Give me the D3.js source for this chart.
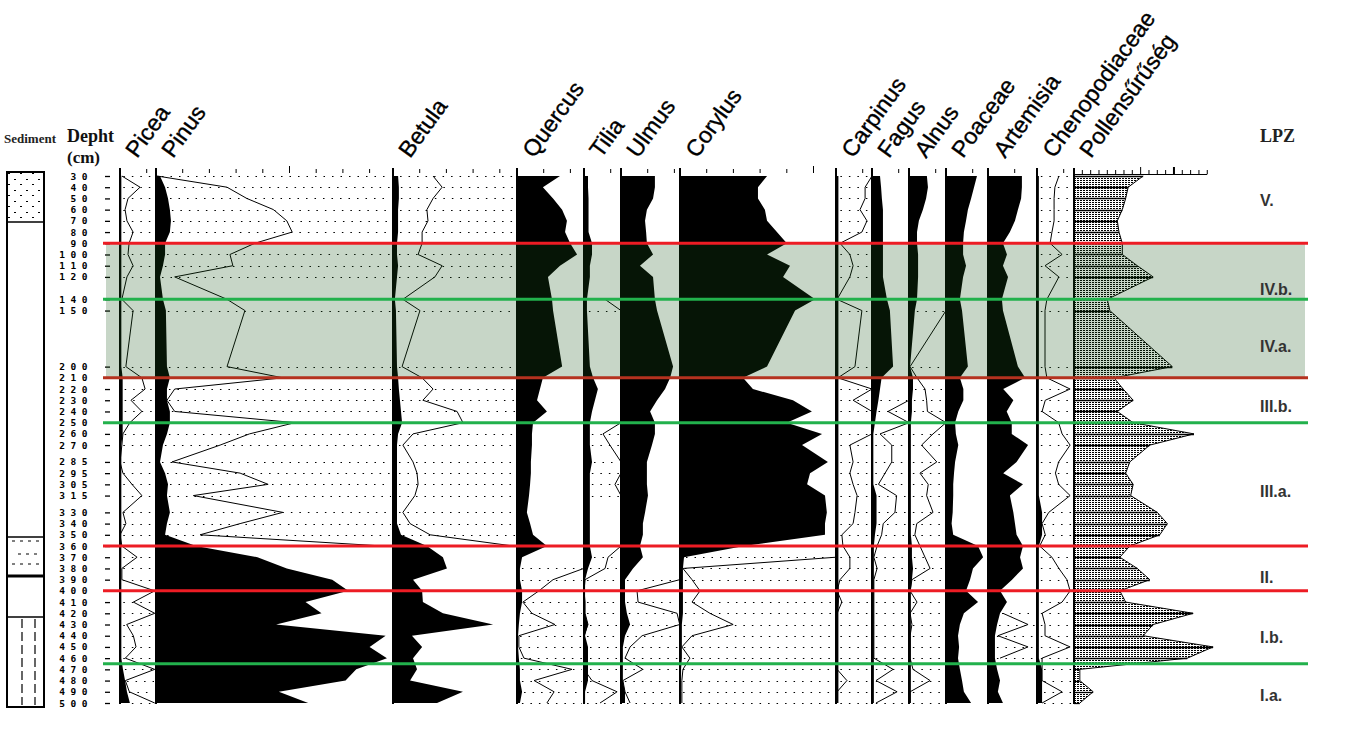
<!DOCTYPE html>
<html>
<head>
<meta charset="utf-8">
<script src="https://cdn.jsdelivr.net/npm/d3@7/dist/d3.min.js"></script>
<style>
  body { margin: 0; background: #fff; }
  svg { display: block; }
</style>
</head>
<body>
<div id="chart"></div>
<script>
// Sample depths (cm)
const depths = [30,40,50,60,70,80,90,100,110,120,
                140,150,200,210,220,230,240,250,260,270,
                285,295,305,315,330,340,350,360,370,380,
                390,400,410,420,430,440,450,460,470,480,
                490,500];

const taxa = ["Picea","Pinus","Betula","Quercus","Tilia","Ulmus","Corylus",
              "Carpinus","Fagus","Alnus","Poaceae","Artemisia","Chenopodiaceae","Pollensűrűség"];

// percentages (black silhouettes) and exaggeration curves
const piceaPct = [.5,.5,.5,.5,.5,.5,.5,.5,.5,.5, .5,.5,.5,1,1,1,1,1,1,.5, .5,.5,.5,.5,.5,.5,.5,.5,.5,.5, .5,.5,.5,.5,.5,.5,.5,.5,1.1,1.9, 2.6,3.7];
const piceaExag = [0.7,7.5,3,1.9,2.6,4.9,3.4,3,4.9,2.6, 0.7,4.9,2.2,8.2,9.4,4.1,8.2,3.7,1.1,0.7, 0,1.1,4.5,8.2,1.1,2.2,0,0.7,6.4,0.7, 0.7,13,5,13,2.5,5,6,2,13,2, 3.5,13];

const pinusPct = [1.5,3.4,4.5,5.2,5.6,5.2,3.4,3.4,2.6,1.5, 2.6,3.7,4.1,5.2,4.1,4.1,5.2,5.2,4.1,2.6, 1.5,3.4,4.5,4.1,5.2,4.1,3.4,15,38,49, 66,72,56,62,45,86,80,86.5,75,71, 46,57];
const pinusExag = [0.4,26.6,34,44,49,51,37,27.7,28.8,7, 26.6,33.3,26.6,47.5,7,4.1,7,52,35,24, 6,31.5,42,14,47.5,31.5,16.5,85,null,null, null,null,null,null,null,null,null,null,null,null, null,null];

const betulaPct = [1.9,2.2,2.2,1.9,1.9,1.9,1.5,1.5,1.9,1.5, 0.7,1.1,1.5,1.9,2.2,2.6,3,3.4,1.9,1.5, 1.5,1.5,1.5,1.5,1.5,1.5,3,12.7,18.7,20.2, 7.5,10.9,11.2,18.7,37.5,7.1,10.9,7.5,9,6.4, 26.2,16.5];
const betulaExag = [15,18.4,15,12.7,13.1,10.9,10.9,9.4,18.4,15.7, 3.7,10.1,3.4,10.9,15,11.2,24,26.2,7.5,3.7, 7.5,9,9.4,8.2,3.7,6.4,13.9,45,null,null, null,null,null,null,null,null,null,null,null,null, null,null];

const quercusPct = [16.1,9.7,13.5,16.9,18.7,18,19.9,22.5,16.1,11.6, 13.1,13.5,16.9,9.7,8.6,7.5,11.2,6,5.6,5.6, 5.2,5.2,4.9,4.5,3.7,4.9,6,11.2,1.9,1.1, 1.1,1.9,1.9,1.1,0.7,0.4,0.4,0.7,1.1,1.1, 1.9,1.1];
const quercusExag = [null,null,null,null,null,null,null,null,null,null, null,null,null,null,null,null,null,null,null,null, null,null,null,null,null,null,null,null,null,25, 13.5,8.2,2.2,5.6,14.2,0.7,0.7,2.6,20.6,6.4, 13.9,11.2];

const tiliaPct = [1.5,1.5,1.7,1.7,1.7,1.7,3,3,2.2,2.2, 1.1,1.1,2.2,3.4,5.2,4.1,3,2.2,2.2,2.2, 3,2.2,2.2,2.2,2.2,2.2,2.2,2.2,3,1.5, 0.4,0.4,0.4,0.4,1.5,0.4,1.5,1.5,1.5,1.5, 0.4,0.4];
const tiliaExag = [null,null,null,null,null,null,null,null,null,null, 7.9,13.9,null,null,null,null,null,13.9,7.1,9.7, 13.9,13.9,11.6,13.9,null,null,null,13.9,9,7.9, 0.4,0,0.4,0.4,1.5,0,0,0,0,3, 12.4,6];

const ulmusPct = [12.7,12.7,12,9.7,9,9.4,9.7,12,7.1,12, 12.7,13.5,19.5,18.4,16.5,13.5,10.9,12.7,12.7,11.6, 9.7,9.7,9.7,10.1,9,8.2,8.2,7.1,8.2,4.5, 1.5,1.5,1.5,2.2,3.4,1.5,0.7,0.7,0.7,0.7, 1.5,1.5];
const ulmusExag = [null,null,null,null,null,null,null,null,null,null, null,null,null,null,null,null,null,null,null,null, null,null,null,null,null,null,null,null,null,null, 22,6,6.4,21,22,7.9,3.4,1.5,8.2,0.7, 1.5,3.4];

const corylusPct = [32.6,29.2,29.2,31.8,32.6,36.3,40,32.6,41.2,38.6, 50.6,43.1,32.6,23.6,27.3,42.3,49.4,40,53.2,45.7, 55.4,48.7,47.6,54.3,55,54.3,54.3,24,1.5,1.1, 1.1,1.1,1.1,1.1,0.7,0.7,0.7,0.7,0.4,0.4, 0.4,0.4];
const corylusExag = [null,null,null,null,null,null,null,null,null,null, null,null,null,null,null,null,null,null,null,null, null,null,null,null,null,null,null,null,58.4,1.1, 4.5,7.5,4.5,11.2,19.9,4.5,0.7,3.7,1.1,0.7, 0.7,0.7];

const carpinusPct = [.9,.9,.9,.9,.9,.9,.9,.9,.9,.9, .9,.9,.9,.9,.9,.9,.9,.9,.9,.9, .9,.9,.9,.9,.9,.9,.9,.9,.9,.9, .9,1.1,1.1,.9,.9,.9,.9,.9,.9,.9, .9,.9];
const carpinusExag = [13.5,10.9,10.9,9,11.6,9.7,1.5,5.2,6.4,5.2, 0.4,9.7,7.1,0.7,13.5,6.4,13.5,13.5,13.5,5.2, 6.4,5.2,6.4,7.9,7.1,6.4,2.2,2.6,5.2,5.2, 1.5,0.4,2.2,0.4,0.4,0.4,0.4,0.4,0.4,4.1, 0.4,0.4];

const fagusPct = [3,3.4,3.7,4.1,4.1,4.1,4.1,4.1,4.1,4.1, 5.6,6.7,7.9,3.6,3,2.4,1.7,1.1,0.5,0.5, 0.5,0.5,0.5,1.7,1.7,1.7,1.1,0.7,0.7,0.7, 0.7,0.7,0.7,0.7,0.7,0.7,0.7,0.7,0.7,0.7, 0.7,0.7];
const fagusExag = [null,null,null,null,null,null,null,null,null,null, null,null,null,null,null,13.9,6,13.9,3,7.4, 7.4,4.9,2.4,9.2,8.6,4.2,3.6,1.9,0.7,1.9, 0.7,0.7,0.7,0.7,0.7,0.7,0.7,0.7,7.9,1.5, 9.4,1.5];

const alnusPct = [6.7,7.1,6.4,5.2,3.7,3,3,3.4,3.4,3.4, 3,2.2,0.4,1.5,1.5,1.1,1.1,0.7,0.7,0.7, 0.7,0.7,0.7,0.7,0.7,0.7,0.7,1.1,1.1,1.5, 1.1,0.7,0.7,0.7,0.7,0.7,0.7,0.7,0.7,0.7, 0.7,0.7];
const alnusExag = [null,null,null,null,null,null,null,null,null,null, null,13.9,0.4,3,6,6.6,6.9,13.9,9,4.7, 10.4,4.1,7.2,6.6,9,2.9,2.2,4.1,6,7.9, 1.1,0.4,3,0.4,1.1,0.4,0.4,0.4,1.5,7.9, 0.4,0.4];

const poaceaePct = [11.6,10.5,9.4,8.2,7.5,6.7,6.4,6.4,7.5,6.4, 5.2,6,8.2,5.2,6.5,6.5,4.6,3.4,3.7,4.6, 3.4,3,2.7,2.7,2.5,2.1,2.7,12,13.9,10.1, 9,7.5,12,6.7,5.2,4.5,4.9,4.5,5.2,6, 6.7,9.4];
const poaceaeExag = depths.map(() => null);

const artemisiaPct = [12.7,12.7,12.4,11.2,10.1,8.2,5.6,7.1,5.6,7.5, 5.2,5.6,11.2,13.9,5.7,9.5,7,8.9,8.9,15, 10.7,5.7,13.1,8.2,9.5,10.1,10.7,13.1,12,13.1, 9,4.5,7.1,4.5,3.4,2.6,2.6,2.6,3.4,4.5, 3.7,5.6];
const artemisiaExag = [null,null,null,null,null,null,null,null,null,null, null,null,null,null,null,null,null,null,null,null, null,null,null,null,null,null,null,null,null,null, null,null,null,5.6,15,3.7,15,4.5,null,null, null,null];

const chenoPct = [.7,.7,.7,.7,.7,.7,.7,.7,.7,.7, .7,.7,.7,.7,.7,.7,.7,.7,.7,.7, .7,.7,.7,.7,1.9,1.9,1.9,.7,.7,.7, .7,.7,.7,.7,.7,.7,.7,.7,1.9,1.9, 1.9,1.9];
const chenoExag = [8.2,6.7,6.4,6.4,6.4,5.6,4.9,9.4,3,8.2, 3.7,3,3,3.7,12.4,3.1,1.9,8.1,9.4,12.4, 8.1,6.9,8.1,12.4,4.4,1.9,3.1,1,5.6,8.2, 11.2,12.4,9.4,1.9,3,3,12.4,1.9,1.9,1.9, 9.4,1.9];

// pollen concentration (relative units, one tick each)
const pollenDensity = [8.3,6.5,6.2,5.8,5.2,5.4,5.8,5.8,7.6,9.5, 4,4.3,11.8,4.8,5.9,7.1,5.2,7.1,14.4,9.1, 6.7,6.2,7.1,6.8,10,11.2,10.3,6.7,5.5,7.6, 9.1,5.5,6.2,14.3,9.5,8.3,16.7,13.6,0.7,0.7, 2.3,0.7];

const pctSeries = [
  [piceaPct, piceaExag], [pinusPct, pinusExag], [betulaPct, betulaExag],
  [quercusPct, quercusExag], [tiliaPct, tiliaExag], [ulmusPct, ulmusExag],
  [corylusPct, corylusExag], [carpinusPct, carpinusExag], [fagusPct, fagusExag],
  [alnusPct, alnusExag], [poaceaePct, poaceaeExag], [artemisiaPct, artemisiaExag],
  [chenoPct, chenoExag]
];

// zones
const zoneBounds = [90, 140, 210, 250, 360, 400, 465];
const zoneColors = ["#ed1c24", "#22b14c", "#b5321f", "#22b14c", "#ed1c24", "#ed1c24", "#22b14c"];
const zoneNames = ["V.", "IV.b.", "IV.a.", "III.b.", "III.a.", "II.", "I.b.", "I.a."];
const zoneLabelDepth = [51, 131, 182, 235, 311, 388, 441, 493];

// layout
const width = 1365, height = 730;
const panelLeft = [120, 156, 393, 517, 584, 621, 680, 836, 872, 909, 946, 988, 1037, 1074];
const pollenRight = 1215;
const pxPerPct = 2.67;
const pxPerUnit = 8.33;

const svg = d3.select("#chart").append("svg")
  .attr("width", width).attr("height", height)
  .style("background", "#fff");

const y = d3.scaleLinear().domain([30, 500]).range([176, 703]);

const defs = svg.append("defs");
const pat = defs.append("pattern").attr("id", "hatch")
  .attr("patternUnits", "userSpaceOnUse").attr("width", 3).attr("height", 2);
pat.append("rect").attr("width", 3).attr("height", 2).attr("fill", "#fff");
pat.append("rect").attr("width", 2).attr("height", 1).attr("fill", "#000");

const sedPat = defs.append("pattern").attr("id", "sand")
  .attr("patternUnits", "userSpaceOnUse").attr("width", 12).attr("height", 11);
sedPat.append("rect").attr("x", 2).attr("y", 3).attr("width", 2).attr("height", 1).attr("fill", "#000");
sedPat.append("rect").attr("x", 8).attr("y", 8).attr("width", 2).attr("height", 1).attr("fill", "#000");

// ---- Sediment column ----
const sed = svg.append("g");
sed.append("rect").attr("x", 7).attr("y", 172).attr("width", 37).attr("height", 50).attr("fill", "url(#sand)");
sed.append("rect").attr("x", 7).attr("y", 172).attr("width", 37).attr("height", 535)
  .attr("fill", "none").attr("stroke", "#000").attr("stroke-width", 2);
[222, 537, 617].forEach(v => sed.append("line").attr("x1", 7).attr("x2", 44).attr("y1", v).attr("y2", v)
  .attr("stroke", "#000").attr("stroke-width", 1.5));
sed.append("line").attr("x1", 7).attr("x2", 44).attr("y1", 576).attr("y2", 576)
  .attr("stroke", "#000").attr("stroke-width", 3);
[541, 554, 564].forEach((v, i) => sed.append("line").attr("x1", i === 1 ? 18 : 12).attr("x2", 40)
  .attr("y1", v).attr("y2", v).attr("stroke", "#000").attr("stroke-width", 1)
  .attr("stroke-dasharray", "3 5"));
[22, 35].forEach(v => sed.append("line").attr("x1", v).attr("x2", v).attr("y1", 619).attr("y2", 705)
  .attr("stroke", "#000").attr("stroke-width", 1.2).attr("stroke-dasharray", "9 4"));

const serif = "Liberation Serif, Times New Roman, serif";
svg.append("text").attr("x", 4).attr("y", 143).text("Sediment")
  .attr("font-family", serif).attr("font-weight", "bold")
  .attr("font-size", 13).attr("fill", "#222");
svg.append("text").attr("x", 67).attr("y", 142).text("Depht")
  .attr("font-family", serif).attr("font-weight", "bold")
  .attr("font-size", 18).attr("fill", "#111");
svg.append("text").attr("x", 67).attr("y", 163).text("(cm)")
  .attr("font-family", serif).attr("font-weight", "bold")
  .attr("font-size", 17).attr("fill", "#111");

// ---- Depth axis ----
const yAxis = svg.append("g").attr("transform", "translate(110,0)")
  .call(d3.axisLeft(y).tickValues(depths).tickSize(5).tickPadding(12).tickFormat(d3.format("d")));
yAxis.select(".domain").remove();
yAxis.selectAll("line").attr("stroke", "#000").attr("stroke-width", 1.3);
yAxis.selectAll("text")
  .attr("font-family", "DejaVu Sans Mono, monospace").attr("font-weight", "bold")
  .attr("font-size", 9.5).attr("letter-spacing", "5.5px").attr("fill", "#000");

// ---- Percentage panels ----
const rows = depths.map((d, i) => ({ depth: d, i }));

pctSeries.forEach(([vals, exag], k) => {
  const left = panelLeft[k];
  const right = panelLeft[k + 1];
  const w = right - left;
  const x = d3.scaleLinear().domain([0, w / pxPerPct]).range([left, right]).clamp(true);
  const g = svg.append("g");

  // dotted sample rows where an exaggeration curve is shown
  g.selectAll("line.row").data(rows.filter(r => exag[r.i] !== null)).enter()
    .append("line")
    .attr("x1", r => x(vals[r.i]) + 2).attr("x2", right - 2)
    .attr("y1", r => Math.round(y(r.depth)) + 0.5).attr("y2", r => Math.round(y(r.depth)) + 0.5)
    .attr("stroke", "#000").attr("stroke-width", 1.2).attr("stroke-dasharray", "1.5 7");

  // black silhouette
  g.append("path").datum(rows)
    .attr("d", d3.area().x0(left).x1(r => x(vals[r.i])).y(r => y(r.depth)))
    .attr("fill", "#000");

  // exaggeration curve
  g.append("path").datum(rows)
    .attr("d", d3.line().defined(r => exag[r.i] !== null).x(r => x(exag[r.i])).y(r => y(r.depth)))
    .attr("fill", "none").attr("stroke", "#000").attr("stroke-width", 1);

  // axis line
  g.append("line").attr("x1", left).attr("x2", left).attr("y1", 168).attr("y2", 704)
    .attr("stroke", "#000").attr("stroke-width", 2);

  // top ticks
  const tv = d3.range(10, w / pxPerPct, 10);
  g.selectAll("line.tick").data(tv).enter().append("line")
    .attr("x1", d => x(d)).attr("x2", d => x(d))
    .attr("y1", d => d === 50 ? 166 : 169).attr("y2", 173)
    .attr("stroke", "#000").attr("stroke-width", 1);
});

// ---- Pollen density ----
{
  const left = panelLeft[13];
  const x = d3.scaleLinear().domain([0, (pollenRight - left) / pxPerUnit]).range([left, pollenRight]);
  const g = svg.append("g");
  g.append("path").datum(rows)
    .attr("d", d3.area().x0(left).x1(r => x(pollenDensity[r.i])).y(r => y(r.depth)))
    .attr("fill", "url(#hatch)");
  g.selectAll("line.s").data(rows).enter().append("line")
    .attr("x1", left).attr("x2", r => x(pollenDensity[r.i]))
    .attr("y1", r => Math.round(y(r.depth)) + 0.5).attr("y2", r => Math.round(y(r.depth)) + 0.5)
    .attr("stroke", "#000").attr("stroke-width", 1.3);
  g.append("path").datum(rows)
    .attr("d", d3.line().x(r => x(pollenDensity[r.i])).y(r => y(r.depth)))
    .attr("fill", "none").attr("stroke", "#000").attr("stroke-width", 1);
  g.append("line").attr("x1", left).attr("x2", left).attr("y1", 168).attr("y2", 704)
    .attr("stroke", "#000").attr("stroke-width", 2);
  g.append("line").attr("x1", left).attr("x2", x(16)).attr("y1", 174.5).attr("y2", 174.5)
    .attr("stroke", "#000").attr("stroke-width", 1);
  g.selectAll("line.tick").data(d3.range(1, 17)).enter().append("line")
    .attr("x1", d => x(d)).attr("x2", d => x(d))
    .attr("y1", d => (d === 8 || d === 12) ? 167 : 170).attr("y2", 174)
    .attr("stroke", "#000").attr("stroke-width", d => d === 12 ? 2 : 1);
}

// ---- Zone shading and lines ----
svg.append("rect").attr("x", 106).attr("width", 1305 - 106)
  .attr("y", y(zoneBounds[0])).attr("height", y(zoneBounds[2]) - y(zoneBounds[0]))
  .attr("fill", "#185818").attr("opacity", 0.245);

svg.selectAll("line.zone").data(zoneBounds).enter().append("line")
  .attr("x1", 103).attr("x2", 1308)
  .attr("y1", d => y(d)).attr("y2", d => y(d))
  .attr("stroke", (d, i) => zoneColors[i]).attr("stroke-width", 3);

svg.selectAll("text.zone").data(zoneNames).enter().append("text")
  .attr("x", 1260).attr("y", (d, i) => y(zoneLabelDepth[i]) + 6)
  .text(d => d)
  .attr("font-family", "Liberation Sans, Arial, sans-serif").attr("font-weight", "bold")
  .attr("font-size", 16).attr("fill", "#333");

svg.append("text").attr("x", 1260).attr("y", 142).text("LPZ")
  .attr("font-family", serif).attr("font-weight", "bold")
  .attr("font-size", 18).attr("fill", "#222");

// ---- Taxon headers ----
svg.selectAll("text.taxon").data(taxa).enter().append("text")
  .attr("transform", (d, i) => `translate(${panelLeft[i] + 17},159) rotate(-54)`)
  .text(d => d)
  .attr("font-family", "Liberation Sans, Arial, sans-serif")
  .attr("font-size", 23).attr("fill", "#000")
  .attr("stroke", "#000").attr("stroke-width", 0.35);
</script>
</body>
</html>
